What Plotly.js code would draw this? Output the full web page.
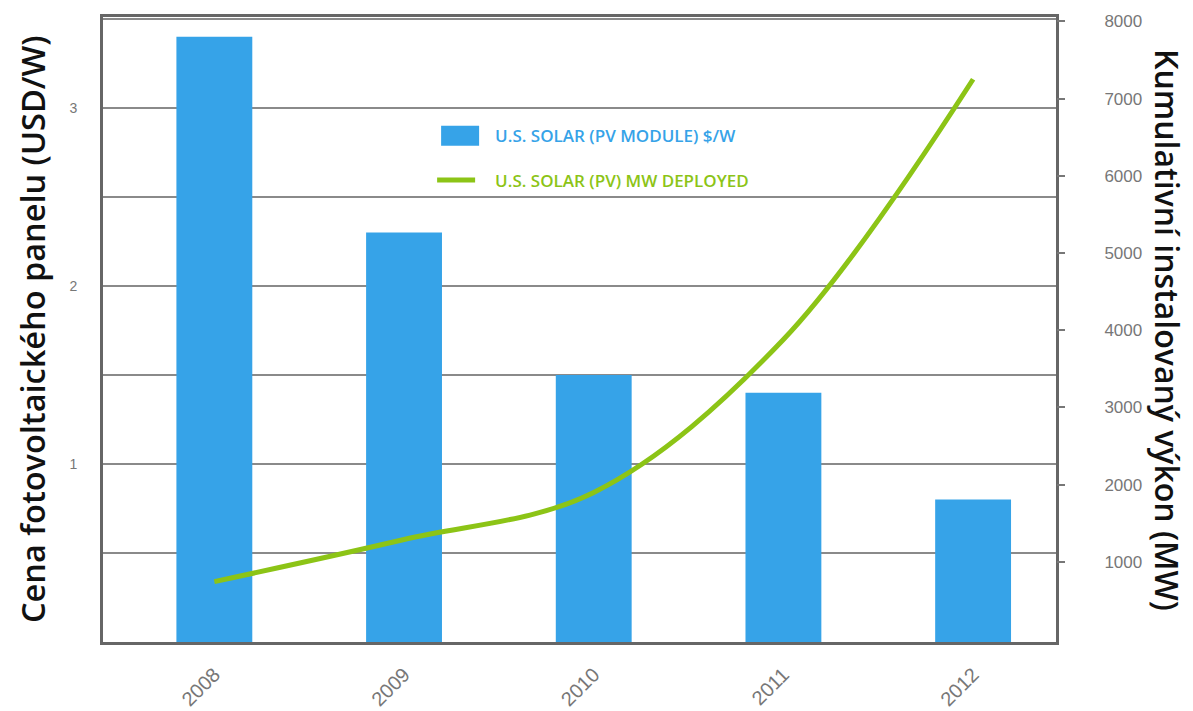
<!DOCTYPE html>
<html>
<head>
<meta charset="utf-8">
<script src="https://cdn.plot.ly/plotly-3.0.1.min.js"></script>
<style>html,body{margin:0;padding:0;background:#fff;}#chart{width:1193px;height:711px;}</style>
</head>
<body>
<div id="chart"></div>
<script>
const years = ['2008', '2009', '2010', '2011', '2012'];
const priceUSDperW = [3.40, 2.30, 1.50, 1.40, 0.80];
const deployedMW = [745, 1290, 1900, 3880, 7250];
const leftTickVals = [0.5, 1, 1.5, 2, 2.5, 3, 3.5];
const leftTickText = ['', '1', '', '2', '', '3', ''];
const rightTickVals = [1000, 2000, 3000, 4000, 5000, 6000, 7000, 8000];
const barName = 'U.S. SOLAR (PV MODULE) $/W';
const lineName = 'U.S. SOLAR (PV) MW DEPLOYED';
const leftTitle = 'Cena fotovoltaického panelu (USD/W)';
const rightTitle = 'Kumulativní instalovaný výkon (MW)';

const blue = '#36a3e8';
const green = '#8cc416';

const traces = [
  {
    type: 'bar', x: years, y: priceUSDperW, width: 0.4,
    marker: {color: blue, line: {width: 0}},
    name: '<span style="color:' + blue + '">' + barName + '</span>',
    legendgroup: 'a', yaxis: 'y', hoverinfo: 'x+y'
  },
  {
    type: 'scatter', mode: 'lines', x: years, y: deployedMW,
    line: {color: green, width: 5, shape: 'spline', smoothing: 1.0},
    name: '<span style="color:' + green + '">' + lineName + '</span>',
    legendgroup: 'b', yaxis: 'y2'
  }
];

const layout = {
  width: 1193, height: 711,
  margin: {l: 103, r: 137, t: 17, b: 69, pad: 0},
  paper_bgcolor: '#fff', plot_bgcolor: '#fff',
  font: {family: 'Liberation Sans, Arial, sans-serif', color: '#666'},
  showlegend: true,
  legend: {
    x: 0.338, y: 0.838, xanchor: 'left', yanchor: 'top',
    bgcolor: 'rgba(255,255,255,0)', borderwidth: 0,
    traceorder: 'grouped', tracegroupgap: 19, itemwidth: 60,
    font: {family: 'Open Sans, sans-serif', size: 17, weight: 600}
  },
  xaxis: {
    type: 'category', range: [-0.587, 4.437],
    showline: true, linecolor: '#666', linewidth: 3, mirror: true,
    showgrid: false, zeroline: false, ticks: '',
    tickangle: -45, ticklabelstandoff: 10,
    tickfont: {size: 20, color: '#777'},
    fixedrange: true
  },
  yaxis: {
    range: [0, 3.511], tickvals: leftTickVals, ticktext: leftTickText,
    showline: true, linecolor: '#666', linewidth: 3, mirror: true,
    showgrid: true, gridcolor: '#8a8a8a', gridwidth: 2,
    zeroline: false, ticks: '', ticklabelstandoff: 20,
    tickfont: {size: 14, color: '#777'}, fixedrange: true
  },
  yaxis2: {
    overlaying: 'y', side: 'right', range: [-37, 8056],
    tickvals: rightTickVals, showgrid: false, zeroline: false,
    showline: false, ticks: 'outside', ticklen: 8, tickwidth: 2, tickcolor: '#777',
    ticklabelstandoff: 36,
    tickfont: {size: 17, color: '#777'}, fixedrange: true
  },
  annotations: [
    {
      text: leftTitle, xref: 'paper', yref: 'paper', x: -0.074, y: 0.5,
      xanchor: 'center', yanchor: 'middle', textangle: -90, showarrow: false,
      font: {family: 'Open Sans, sans-serif', size: 32.5, color: '#111', weight: 600}
    },
    {
      text: rightTitle, xref: 'paper', yref: 'paper', x: 1.117, y: 0.5,
      xanchor: 'center', yanchor: 'middle', textangle: 90, showarrow: false,
      font: {family: 'Open Sans, sans-serif', size: 32, color: '#111', weight: 600}
    }
  ]
};

function tweakLegend() {
  const items = document.querySelectorAll('.legend .traces');
  if (items.length < 2) return;
  items[0].querySelectorAll('.legendpoints path').forEach(function (p) {
    p.setAttribute('d', 'M19,10H-19V-10H19Z');
  });
  items[1].querySelectorAll('.legendlines path').forEach(function (p) {
    p.setAttribute('d', 'M12,0h38');
  });
}

Plotly.newPlot('chart', traces, layout, {displayModeBar: false, staticPlot: true}).then(function () {
  tweakLegend();
  setTimeout(tweakLegend, 50);
});
</script>
</body>
</html>
